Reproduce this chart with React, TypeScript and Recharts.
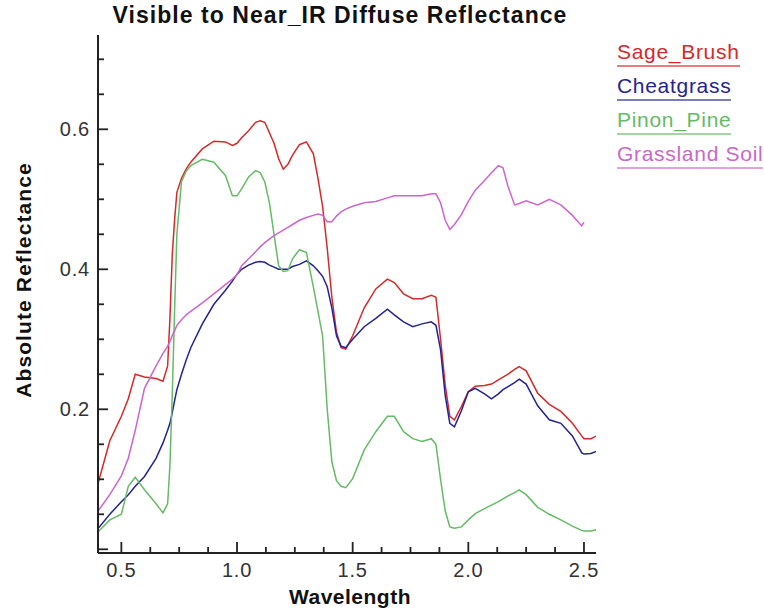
import React from 'react';
import { LineChart, Line, XAxis, YAxis, Label } from 'recharts';

const wavelengths = [0.40, 0.45, 0.50, 0.53, 0.56, 0.60, 0.65, 0.68, 0.70, 0.71, 0.72, 0.73, 0.74, 0.76, 0.78, 0.80, 0.85, 0.90, 0.95, 0.98, 1.00, 1.02, 1.05, 1.08, 1.10, 1.12, 1.14, 1.16, 1.18, 1.20, 1.22, 1.24, 1.27, 1.30, 1.33, 1.35, 1.37, 1.39, 1.41, 1.43, 1.45, 1.47, 1.50, 1.55, 1.60, 1.65, 1.68, 1.72, 1.76, 1.80, 1.84, 1.86, 1.88, 1.90, 1.92, 1.94, 1.97, 2.00, 2.03, 2.07, 2.10, 2.13, 2.15, 2.17, 2.20, 2.22, 2.25, 2.30, 2.35, 2.40, 2.45, 2.49, 2.50, 2.53, 2.555];

const sageBrush = [0.095, 0.155, 0.19, 0.215, 0.25, 0.246, 0.244, 0.24, 0.262, 0.33, 0.42, 0.47, 0.51, 0.53, 0.543, 0.553, 0.572, 0.583, 0.582, 0.577, 0.58, 0.588, 0.598, 0.61, 0.612, 0.61, 0.595, 0.58, 0.558, 0.543, 0.55, 0.563, 0.578, 0.582, 0.565, 0.53, 0.49, 0.43, 0.36, 0.31, 0.288, 0.286, 0.305, 0.345, 0.372, 0.386, 0.381, 0.365, 0.358, 0.358, 0.363, 0.36, 0.30, 0.235, 0.19, 0.185, 0.204, 0.225, 0.233, 0.234, 0.236, 0.242, 0.246, 0.25, 0.257, 0.261, 0.255, 0.223, 0.207, 0.197, 0.18, 0.162, 0.158, 0.158, 0.162];

const cheatgrass = [0.03, 0.05, 0.068, 0.078, 0.09, 0.104, 0.13, 0.152, 0.17, 0.18, 0.195, 0.212, 0.228, 0.25, 0.27, 0.288, 0.322, 0.35, 0.37, 0.383, 0.393, 0.40, 0.406, 0.41, 0.411, 0.41, 0.406, 0.403, 0.40, 0.40, 0.40, 0.404, 0.407, 0.412, 0.405, 0.398, 0.39, 0.375, 0.345, 0.305, 0.29, 0.288, 0.30, 0.318, 0.33, 0.343, 0.335, 0.325, 0.318, 0.322, 0.325, 0.32, 0.285, 0.22, 0.18, 0.175, 0.198, 0.225, 0.23, 0.222, 0.215, 0.222, 0.228, 0.232, 0.238, 0.243, 0.236, 0.205, 0.185, 0.18, 0.162, 0.138, 0.136, 0.137, 0.14];

const pinonPine = [0.025, 0.042, 0.05, 0.09, 0.103, 0.085, 0.065, 0.052, 0.065, 0.12, 0.22, 0.34, 0.45, 0.525, 0.54, 0.548, 0.557, 0.553, 0.534, 0.505, 0.505, 0.515, 0.532, 0.541, 0.538, 0.525, 0.495, 0.45, 0.405, 0.397, 0.398, 0.415, 0.428, 0.424, 0.375, 0.34, 0.305, 0.2, 0.125, 0.098, 0.09, 0.088, 0.101, 0.142, 0.168, 0.19, 0.19, 0.168, 0.158, 0.154, 0.158, 0.15, 0.1, 0.055, 0.032, 0.03, 0.032, 0.042, 0.051, 0.058, 0.063, 0.068, 0.072, 0.076, 0.081, 0.085, 0.078, 0.06, 0.05, 0.042, 0.033, 0.027, 0.026, 0.026, 0.028];

const grasslandSoil = [0.055, 0.078, 0.105, 0.13, 0.17, 0.23, 0.262, 0.28, 0.29, 0.297, 0.305, 0.312, 0.32, 0.328, 0.335, 0.34, 0.352, 0.365, 0.378, 0.386, 0.392, 0.405, 0.415, 0.425, 0.432, 0.438, 0.443, 0.448, 0.452, 0.456, 0.46, 0.464, 0.47, 0.474, 0.477, 0.479, 0.477, 0.468, 0.468, 0.476, 0.482, 0.486, 0.49, 0.495, 0.497, 0.502, 0.505, 0.505, 0.505, 0.505, 0.508, 0.508, 0.495, 0.47, 0.457, 0.464, 0.478, 0.497, 0.513, 0.527, 0.538, 0.548, 0.545, 0.52, 0.492, 0.494, 0.498, 0.492, 0.50, 0.492, 0.477, 0.462, 0.467, null, null];

const seriesNames = ['Sage_Brush', 'Cheatgrass', 'Pinon_Pine', 'Grassland Soil'];
const seriesKeys = ['sage', 'cheat', 'pinon', 'soil'];
const seriesColors = ['#d42a2a', '#232396', '#66bb66', '#cc66cc'];

const xTicks = [0.5, 0.625, 0.75, 0.875, 1.0, 1.125, 1.25, 1.375, 1.5, 1.625, 1.75, 1.875, 2.0, 2.125, 2.25, 2.375, 2.5];
const xLabels = [0.5, 1.0, 1.5, 2.0, 2.5];
const yTicks = [0, 0.05, 0.1, 0.15, 0.2, 0.25, 0.3, 0.35, 0.4, 0.45, 0.5, 0.55, 0.6, 0.65, 0.7];
const yLabels = [0.2, 0.4, 0.6];
const yMajors = [0, 0.2, 0.4, 0.6];

const xDomain = [0.399, 2.552];
const yDomain = [-0.0053, 0.7347];

const data = wavelengths.map((w, i) => ({
  w,
  sage: sageBrush[i],
  cheat: cheatgrass[i],
  pinon: pinonPine[i],
  soil: grasslandSoil[i],
}));

const FONT = '"Liberation Sans", Arial, Helvetica, sans-serif';
const near = (arr: number[], v: number) => arr.some((a) => Math.abs(a - v) < 1e-6);
const TICK_COLOR = '#222';

const BottomTick = (props: any) => {
  const { x, y, payload } = props;
  const v = payload.value;
  const major = near(xLabels, v);
  return (
    <g>
      <line x1={x} y1={y} x2={x} y2={y - (major ? 11 : 6)} stroke={TICK_COLOR} strokeWidth={1.8} />
      {major && (
        <text x={x} y={y + 24} textAnchor="middle" fontSize={20} letterSpacing={0.8} fontFamily={FONT} fill="#333">
          {v.toFixed(1)}
        </text>
      )}
    </g>
  );
};

const TopTick = (props: any) => {
  const { x, y, payload } = props;
  const major = near(xLabels, payload.value);
  return <line x1={x} y1={y} x2={x} y2={y + (major ? 11 : 6)} stroke={TICK_COLOR} strokeWidth={1.8} />;
};

const LeftTick = (props: any) => {
  const { x, y, payload } = props;
  const v = payload.value;
  const major = near(yMajors, v);
  return (
    <g>
      <line x1={x} y1={y} x2={x + (major ? 10 : 6)} y2={y} stroke={TICK_COLOR} strokeWidth={1.8} />
      {near(yLabels, v) && (
        <text x={x - 8} y={y + 7} textAnchor="end" fontSize={20} letterSpacing={0.8} fontFamily={FONT} fill="#333">
          {v.toFixed(1)}
        </text>
      )}
    </g>
  );
};

const RightTick = (props: any) => {
  const { x, y, payload } = props;
  const major = near(yMajors, payload.value);
  return <line x1={x} y1={y} x2={x - (major ? 10 : 6)} y2={y} stroke={TICK_COLOR} strokeWidth={1.8} />;
};

const YTitle = (props: any) => {
  const { viewBox } = props;
  const cx = viewBox.x + 23;
  const cy = viewBox.y + viewBox.height / 2 - 14;
  return (
    <text
      x={cx}
      y={cy}
      transform={`rotate(-90, ${cx}, ${cy})`}
      textAnchor="middle"
      dominantBaseline="central"
      fontSize={21}
      letterSpacing={1.1}
      fontWeight="bold"
      fontFamily={FONT}
      fill="#111"
    >
      Absolute Reflectance
    </text>
  );
};

const XTitle = (props: any) => {
  const { viewBox } = props;
  return (
    <text
      x={viewBox.x + viewBox.width / 2 + 3}
      y={viewBox.y + 51}
      textAnchor="middle"
      fontSize={21}
      letterSpacing={0.5}
      fontWeight="bold"
      fontFamily={FONT}
      fill="#111"
    >
      Wavelength
    </text>
  );
};

export default function App() {
  return (
    <div style={{ position: 'absolute', left: 0, top: 0, width: 764, height: 611, background: '#fff' }}>
      <div
        style={{
          position: 'absolute',
          left: 0,
          top: 2,
          width: 680,
          textAlign: 'center',
          fontFamily: FONT,
          fontWeight: 'bold',
          fontSize: 23,
          letterSpacing: 1.05,
          color: '#111',
        }}
      >
        Visible to Near_IR Diffuse Reflectance
      </div>
      <LineChart
        width={764}
        height={611}
        data={data}
        margin={{ top: 35, right: 168, bottom: 0, left: 0 }}
      >
        <XAxis
          xAxisId="bottom"
          dataKey="w"
          type="number"
          domain={xDomain}
          allowDataOverflow
          ticks={xTicks}
          interval={0}
          tickSize={0}
          tickMargin={0}
          tick={<BottomTick />}
          axisLine={{ stroke: '#222', strokeWidth: 2 }}
          height={58}
        >
          <Label content={<XTitle />} />
        </XAxis>
        <XAxis
          xAxisId="top"
          orientation="top"
          dataKey="w"
          type="number"
          domain={xDomain}
          allowDataOverflow
          ticks={xTicks}
          interval={0}
          tickSize={0}
          tickMargin={0}
          tick={<TopTick />}
          axisLine={{ stroke: '#222', strokeWidth: 2 }}
          height={0}
        />
        <YAxis
          yAxisId="left"
          type="number"
          domain={yDomain}
          allowDataOverflow
          ticks={yTicks}
          interval={0}
          tickSize={0}
          tickMargin={0}
          tick={<LeftTick />}
          axisLine={{ stroke: '#222', strokeWidth: 2 }}
          width={98}
        >
          <Label content={<YTitle />} />
        </YAxis>
        <YAxis
          yAxisId="right"
          orientation="right"
          type="number"
          domain={yDomain}
          allowDataOverflow
          ticks={yTicks}
          interval={0}
          tickSize={0}
          tickMargin={0}
          tick={<RightTick />}
          axisLine={{ stroke: '#222', strokeWidth: 2 }}
          width={0}
        />
        {seriesKeys.map((k, i) => (
          <Line
            key={k}
            xAxisId="bottom"
            yAxisId="left"
            dataKey={k}
            name={seriesNames[i]}
            type="linear"
            stroke={seriesColors[i]}
            strokeWidth={1.5}
            dot={false}
            isAnimationActive={false}
            connectNulls={false}
          />
        ))}
      </LineChart>
      <div style={{ position: 'absolute', left: 617, top: 40, fontFamily: FONT, fontSize: 21, letterSpacing: 0.7 }}>
        {seriesNames.map((n, i) => (
          <div key={n} style={{ height: 34, position: 'relative' }}>
            <span
              style={{
                color: seriesColors[i],
                display: 'inline-block',
                lineHeight: '24px',
                borderBottom: `2px solid ${seriesColors[i]}99`,
                paddingBottom: 1,
              }}
            >
              {n}
            </span>
          </div>
        ))}
      </div>
    </div>
  );
}
